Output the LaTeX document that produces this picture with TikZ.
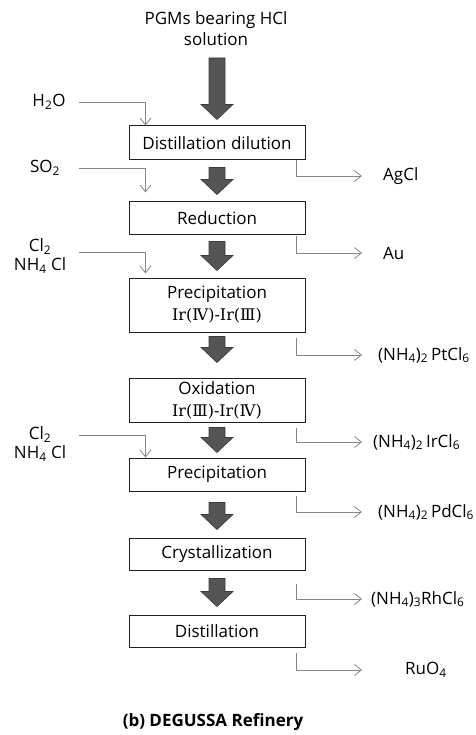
\documentclass[tikz,border=0pt]{standalone}
\usepackage{fontspec}
\setmainfont{Open Sans}
\newfontfamily\romfont{DejaVu Serif}
\usetikzlibrary{arrows.meta,calc}
\definecolor{linegray}{HTML}{858585}
\definecolor{arrfill}{HTML}{555555}
\definecolor{arrdraw}{HTML}{3A3A3A}
\definecolor{boxdraw}{HTML}{202020}
\newcommand\blockarrow[2]{%
  \filldraw[bigarrow] let \p1=#1, \p2=#2 in
    (\x1-8pt,\y1) -- (\x1+8pt,\y1) -- (\x1+8pt,\y2+15pt) -- (\x1+16pt,\y2+15pt)
    -- (\x1,\y2) -- (\x1-16pt,\y2+15pt) -- (\x1-8pt,\y2+15pt) -- cycle;}
\begin{document}
\begin{tikzpicture}[x=1pt,y=-1pt,
  font=\fontsize{17}{21}\selectfont,
  stepbox/.style={draw=boxdraw,line width=1pt,minimum width=176pt,inner sep=0pt,align=center,
    font=\fontsize{17}{22}\selectfont},
  lbl/.style={inner sep=0pt,align=center,font=\fontsize{17}{18.5}\selectfont},
  outlbl/.style={inner sep=0pt,anchor=west},
  flow/.style={draw=linegray,line width=0.8pt,-{Straight Barb[length=7pt,width=11pt,line width=0.8pt]}},
  bigarrow/.style={fill=arrfill,draw=arrdraw,line width=0.6pt,line join=miter}]
\useasboundingbox (0,0) rectangle (475,735);

% source
\node[lbl,font=\fontsize{17}{21}\selectfont] (src) at (216,28.5) {PGMs bearing HCl\\solution};
\coordinate (a0) at (217,58);

% process boxes
\node[stepbox,minimum height=34pt] (b1) at (217,143) {Distillation dilution};
\node[stepbox,minimum height=32pt] (b2) at (217,218) {Reduction};
\node[stepbox,minimum height=54pt] (b3) at (217,305) {Precipitation\\{\romfont\fontsize{16}{22}\selectfont Ir(Ⅳ)-Ir(Ⅲ)}};
\node[stepbox,minimum height=44pt] (b4) at (217,400) {Oxidation\\{\romfont\fontsize{16}{22}\selectfont Ir(Ⅲ)-Ir(Ⅳ)}};
\node[stepbox,minimum height=33pt] (b5) at (217,474.5) {Precipitation};
\node[stepbox,minimum height=32pt] (b6) at (217,554) {Crystallization};
\node[stepbox,minimum height=32pt] (b7) at (217,631) {Distillation};

% block arrows
\blockarrow{(a0)}{($(b1.north)+(0,-6)$)}
\blockarrow{($(b1.south)+(0,7)$)}{($(b2.north)+(0,-7)$)}
\blockarrow{($(b2.south)+(0,7)$)}{($(b3.north)+(0,-7)$)}
\blockarrow{($(b3.south)+(0,4)$)}{($(b4.north)+(0,-15)$)}
\blockarrow{($(b4.south)+(0,5)$)}{($(b5.north)+(0,-5)$)}
\blockarrow{($(b5.south)+(0,11)$)}{($(b6.north)+(0,-8)$)}
\blockarrow{($(b6.south)+(0,8)$)}{($(b7.north)+(0,-8)$)}

% inputs
\node[lbl] (h2o) at (49,102) {H\textsubscript{2}O};
\node[lbl] (so2) at (45,168) {SO\textsubscript{2}};
\node[lbl] (cl1) at (40,256) {Cl\textsubscript{2}\\NH\textsubscript{4} Cl};
\node[lbl] (cl2) at (40,444) {Cl\textsubscript{2}\\NH\textsubscript{4} Cl};
\coordinate (i1) at (79,102);
\coordinate (i2) at (79,168);
\coordinate (i3) at (79,252);
\coordinate (i4) at (79,435);
\draw[flow] (i1) -| ($(b1.north west)+(17,0)$);
\draw[flow] (i2) -| ($(b2.north west)+(17,-9)$);
\draw[flow] (i3) -| ($(b3.north west)+(17,-4)$);
\draw[flow] (i4) -| ($(b5.north west)+(17,0)$);

% outputs
\node[outlbl] (o1) at (383,176) {AgCl};
\node[outlbl] (o2) at (383,253) {Au};
\node[outlbl] (o3) at (378,355) {(NH\textsubscript{4})\textsubscript{2}\,PtCl\textsubscript{6}};
\node[outlbl] (o4) at (373,442) {(NH\textsubscript{4})\textsubscript{2}\,IrCl\textsubscript{6}};
\node[outlbl] (o5) at (378,512) {(NH\textsubscript{4})\textsubscript{2}\,PdCl\textsubscript{6}};
\node[outlbl] (o6) at (371,599) {(NH\textsubscript{4})\textsubscript{3}RhCl\textsubscript{6}};
\node[outlbl] (o7) at (405,670) {RuO\textsubscript{4}};
\coordinate (e1) at (362,176);
\coordinate (e2) at (362,253);
\coordinate (e3) at (362,355);
\coordinate (e4) at (362,442);
\coordinate (e5) at (362,512);
\coordinate (e6) at (362,599);
\coordinate (e7) at (362,670);
\draw[flow] ($(b1.south east)+(-9,0)$) |- (e1);
\draw[flow] ($(b2.south east)+(-9,1)$) |- (e2);
\draw[flow] ($(b3.south east)+(-9,5)$) |- (e3);
\draw[flow] ($(b4.south east)+(-9,5)$) |- (e4);
\draw[flow] ($(b5.south east)+(-9,4)$) |- (e5);
\draw[flow] ($(b6.south east)+(-9,13)$) |- (e6);
\draw[flow] ($(b7.south east)+(-9,5)$) |- (e7);

% caption
\node[inner sep=0pt,font=\fontsize{17}{18}\selectfont\bfseries] (cap) at (213,722) {(b) DEGUSSA Refinery};
\end{tikzpicture}
\end{document}
